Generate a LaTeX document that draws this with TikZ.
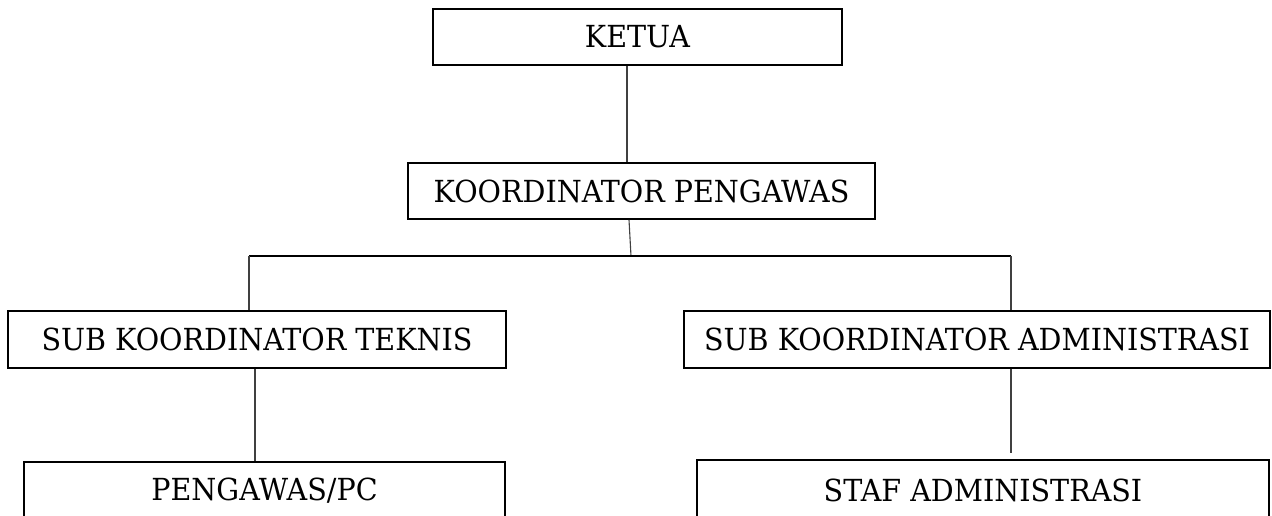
\documentclass[tikz,border=0pt]{standalone}
\usepackage{fontspec}
\setmainfont{DejaVu Serif}[FakeStretch=0.94]
\begin{document}
\begin{tikzpicture}[x=1bp,y=-1bp,
  box/.style={draw=black, line width=1.8bp, fill=white, inner sep=0pt,
    font=\fontsize{30.5}{34}\selectfont, text=black},
  conn/.style={draw=black!75, line width=1.1bp},
  bar/.style={draw=black, line width=1.8bp}]
\useasboundingbox (0,0) rectangle (1272,516);
\clip (0,0) rectangle (1272,516);
% boxes
\node[box, minimum width=409bp, minimum height=56bp] (ketua) at (637.5,37) {KETUA};
\node[box, minimum width=467bp, minimum height=56bp] (koord) at (641.5,191) {KOORDINATOR PENGAWAS};
\node[box, minimum width=498bp, minimum height=57bp] (teknis) at (257,339.5) {SUB KOORDINATOR TEKNIS};
\node[box, minimum width=586bp, minimum height=57bp] (admin) at (977,339.5) {SUB KOORDINATOR ADMINISTRASI};
\node[box, minimum width=481bp, minimum height=58bp] (pengawas) at (264.5,491) {PENGAWAS/PC};
\node[box, minimum width=572bp, minimum height=60bp] (staf) at (983,490) {STAF ADMINISTRASI};
% helper coordinates
\coordinate (k1) at (627,0);
\coordinate (k2) at (629,0);
\coordinate (hub) at (631,256);
\coordinate (hl) at (249,256);
\coordinate (hr) at (1011,256);
\coordinate (t1) at (255,0);
\coordinate (aend) at (1011,453);
% connectors
\draw[conn] (ketua.south -| k1) -- (koord.north -| k1);
\draw[conn] (koord.south -| k2) -- (hub);
\draw[bar] (hl) -- (hr);
\draw[conn] (hl) -- (teknis.north -| hl);
\draw[conn] (hr) -- (admin.north -| hr);
\draw[conn] (teknis.south -| t1) -- (pengawas.north -| t1);
\draw[conn] (admin.south -| aend) -- (aend);
\end{tikzpicture}
\end{document}
